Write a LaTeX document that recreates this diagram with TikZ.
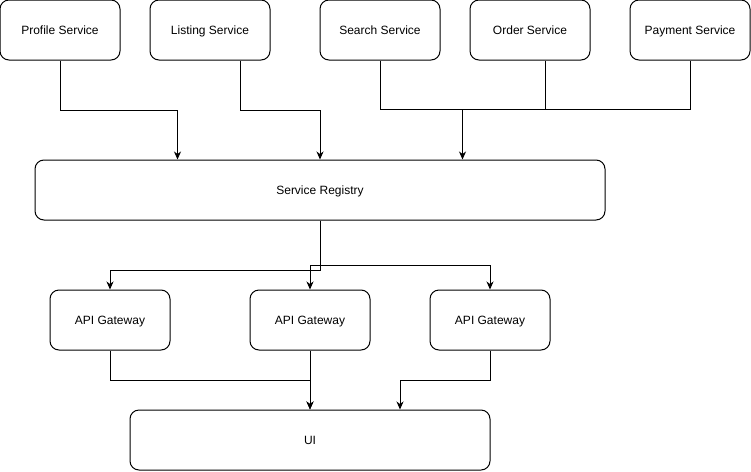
\documentclass[tikz,border=0pt]{standalone}
\usepackage{fontspec}
\setmainfont{Liberation Sans}
\usetikzlibrary{arrows.meta,calc}
\begin{document}
\begin{tikzpicture}[x=1pt,y=-1pt,
  box/.style={draw, rounded corners=9pt, line width=1pt, minimum width=120pt, minimum height=60pt, inner sep=0pt, text height=9.4pt, text depth=0pt, font=\fontsize{12}{14}\selectfont},
  conn/.style={line width=1pt},
  arr/.style={conn,-{Stealth[length=8pt,width=7pt,inset=2.5pt]}}]
\useasboundingbox (0,0) rectangle (751,471);
\fill[white] (0,0) rectangle (751,471);
\node[box] (profile) at (60,30) {Profile Service};
\node[box] (listing) at (210,30) {Listing Service};
\node[box] (search) at (380,30) {Search Service};
\node[box] (order) at (530,30) {Order Service};
\node[box] (payment) at (690,30) {Payment Service};
\node[box, minimum width=570pt] (registry) at (320,190) {Service Registry};
\node[box] (gw1) at (110,320) {API Gateway};
\node[box] (gw2) at (310,320) {API Gateway};
\node[box] (gw3) at (490,320) {API Gateway};
\node[box, minimum width=360pt] (ui) at (310,440) {UI};
% services to registry
\draw[arr] (profile.south) -- ++(0,50) -| ([xshift=-142.5pt]registry.north);
\draw[arr] ([xshift=30pt]listing.south) -- ++(0,50) -| (registry.north);
\coordinate (bus) at ($([xshift=142.5pt]registry.north)+(0,-50)$);
\draw[conn] (search.south) |- (bus) -- (bus -| payment.south) -- (payment.south);
\draw[conn] ([xshift=15pt]order.south) -- ([xshift=15pt]order.south |- bus);
\draw[arr] (bus) -- ([xshift=142.5pt]registry.north);
% registry to gateways
\coordinate (j1) at ($(registry.south)+(0,50)$);
\coordinate (j2) at ($(registry.south)+(0,45)$);
\draw[arr] (registry.south) -- (j1) -| (gw1.north);
\draw[arr] (registry.south) -- (j2) -| (gw2.north);
\draw[arr] (j2) -| (gw3.north);
% gateways to UI
\draw[arr] (gw1.south) -- ++(0,30) -| (ui.north);
\draw[arr] (gw2.south) -- (ui.north);
\draw[arr] (gw3.south) -- ++(0,30) -| ([xshift=90pt]ui.north);
\end{tikzpicture}
\end{document}
